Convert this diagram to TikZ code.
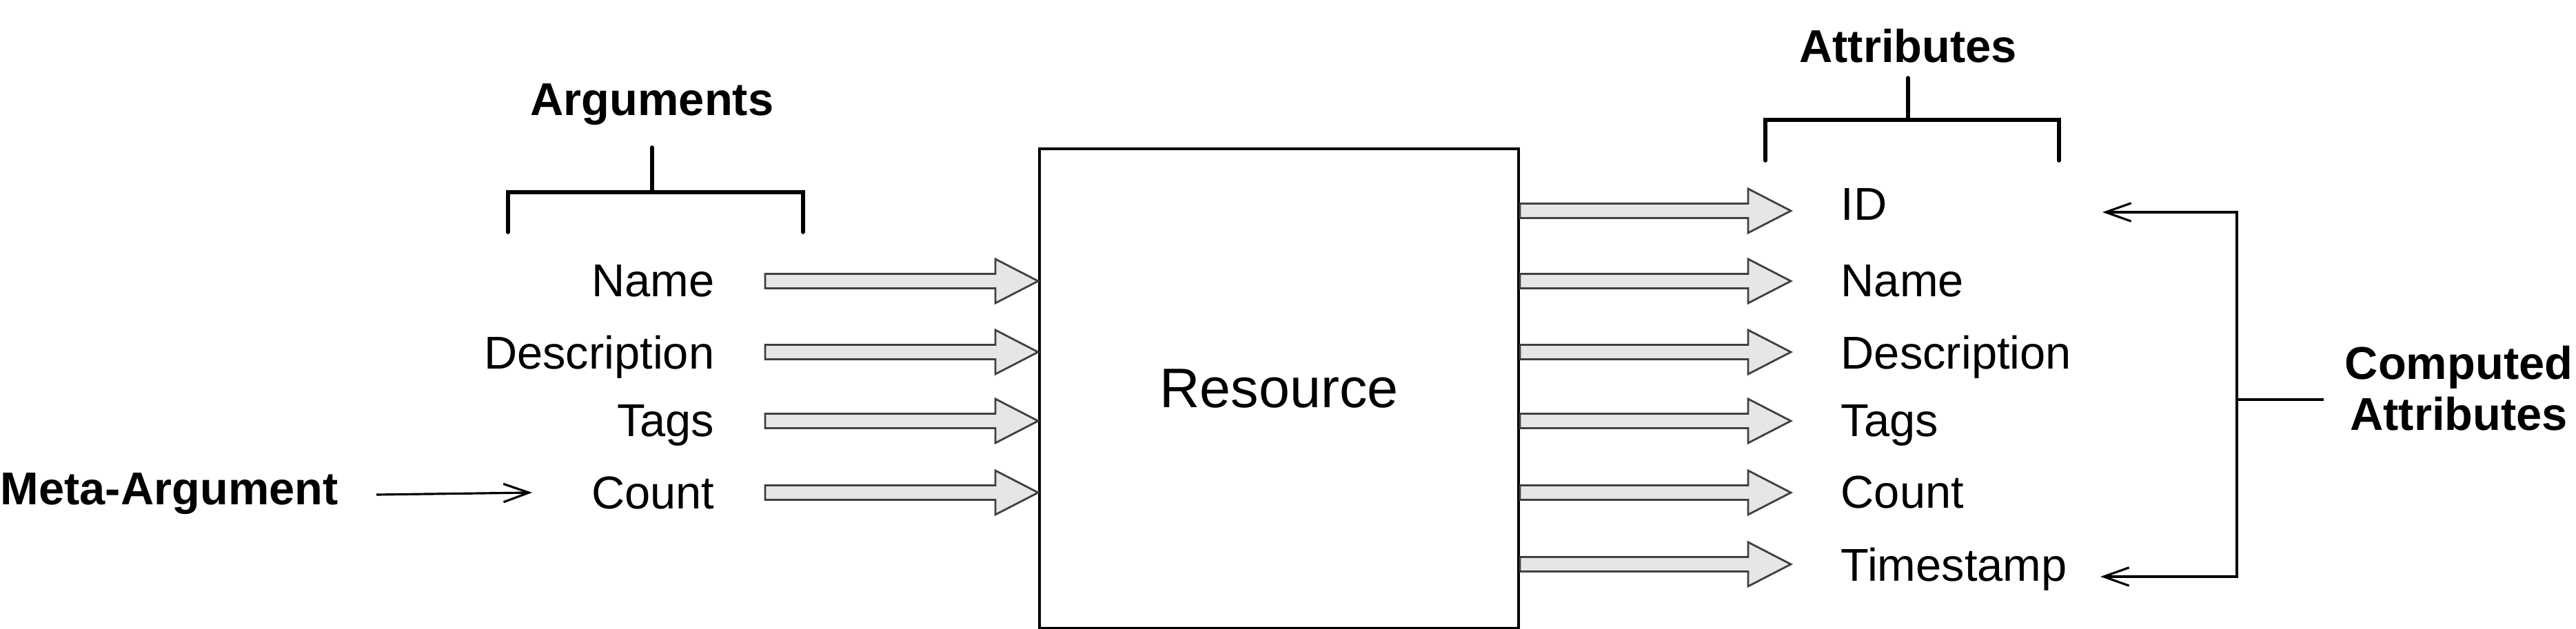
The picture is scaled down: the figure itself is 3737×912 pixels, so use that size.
\documentclass[tikz,border=0pt]{standalone}
\usepackage{fontspec}
\setmainfont{Liberation Sans}
\usetikzlibrary{arrows.meta,calc}
\definecolor{arrfill}{HTML}{E6E6E6}
\definecolor{arrline}{HTML}{404040}
\tikzset{
  lbl/.style={inner sep=0pt, font=\fontsize{19pt}{23pt}\selectfont},
  ttl/.style={inner sep=0pt, font=\fontsize{19pt}{23pt}\selectfont\bfseries},
  blockarr/.style={draw=arrline, fill=arrfill, line width=0.8pt, line join=miter},
  brack/.style={line width=1.6pt, line cap=round},
  thinarr/.style={line width=0.9pt, -{Straight Barb[length=10.5pt,width=7.5pt,line width=0.9pt]}},
  thinln/.style={line width=0.9pt}
}
\newcommand{\blockarrow}[2]{%
  \draw[blockarr] let \p1=(#1), \p2=(#2) in
    (\x1,\y1+0.105cm) -- (\x2-0.62cm,\y1+0.105cm) -- (\x2-0.62cm,\y1+0.32cm) --
    (\x2,\y1) -- (\x2-0.62cm,\y1-0.32cm) -- (\x2-0.62cm,\y1-0.105cm) --
    (\x1,\y1-0.105cm) -- cycle;}
\begin{document}
\begin{tikzpicture}[x=0.01cm,y=-0.01cm]
\useasboundingbox (0,0) rectangle (3737,912);
% resource box
\node[draw, line width=1pt, minimum width=6.95cm, minimum height=6.96cm, anchor=north west,
      inner sep=0pt, font=\fontsize{23pt}{27pt}\selectfont] (res) at (1506,214) {Resource};
% arguments
\node[ttl, anchor=base] (args) at (946,167) {Arguments};
\coordinate (abl) at (737,279); \coordinate (abr) at (1165,279); \coordinate (abs) at (946,214);
\draw[brack] ($(abl)+(0,58)$) -- (abl) -- (abr) -- ($(abr)+(0,58)$);
\draw[brack] (abs) -- (abs |- abl);
\node[lbl, anchor=base east] (an) at (1037,430) {Name};
\node[lbl, anchor=base east] (ad) at (1037,535) {Description};
\node[lbl, anchor=base east] (at) at (1037,633) {Tags};
\node[lbl, anchor=base east] (ac) at (1037,738) {Count};
\coordinate (la1) at (1110,408);
\coordinate (la2) at (1110,511);
\coordinate (la3) at (1110,611);
\coordinate (la4) at (1110,715);
\blockarrow{la1}{res.west |- la1}
\blockarrow{la2}{res.west |- la2}
\blockarrow{la3}{res.west |- la3}
\blockarrow{la4}{res.west |- la4}
% meta-argument
\node[ttl, anchor=base west] (meta) at (0,732) {Meta-Argument};
\coordinate (ms) at (546,718); \coordinate (me) at (772,715);
\draw[thinarr] (ms) -- (me);
% attributes
\node[ttl, anchor=base] (attrs) at (2768,90) {Attributes};
\coordinate (tbl) at (2561,174); \coordinate (tbr) at (2987,174); \coordinate (tbs) at (2768,113);
\draw[brack] ($(tbl)+(0,59)$) -- (tbl) -- (tbr) -- ($(tbr)+(0,59)$);
\draw[brack] (tbs) -- (tbs |- tbl);
\node[lbl, anchor=base west] (rid) at (2670,319) {ID};
\node[lbl, anchor=base west] (rn) at (2670,430) {Name};
\node[lbl, anchor=base west] (rd) at (2670,535) {Description};
\node[lbl, anchor=base west] (rt) at (2670,633) {Tags};
\node[lbl, anchor=base west] (rc) at (2670,737) {Count};
\node[lbl, anchor=base west] (rts) at (2670,843) {Timestamp};
\coordinate (ra1) at (2598,306);
\coordinate (ra2) at (2598,408);
\coordinate (ra3) at (2598,511);
\coordinate (ra4) at (2598,611);
\coordinate (ra5) at (2598,715);
\coordinate (ra6) at (2598,819);
\blockarrow{res.east |- ra1}{ra1}
\blockarrow{res.east |- ra2}{ra2}
\blockarrow{res.east |- ra3}{ra3}
\blockarrow{res.east |- ra4}{ra4}
\blockarrow{res.east |- ra5}{ra5}
\blockarrow{res.east |- ra6}{ra6}
% computed attributes
\node[ttl, align=center, anchor=base] (comp) at (3567,624) {Computed\\[-2.2pt]Attributes};
\coordinate (ct) at (3245,308); \coordinate (cb) at (3245,837); \coordinate (cm) at (3245,580);
\coordinate (ctt) at (3050,308); \coordinate (cbt) at (3047,837); \coordinate (cme) at (3371,580);
\draw[thinarr] (cb) -- (ct) -- (ctt);
\draw[thinarr] (ct) -- (cb) -- (cbt);
\draw[thinln] (cm) -- (cme);
\end{tikzpicture}
\end{document}
